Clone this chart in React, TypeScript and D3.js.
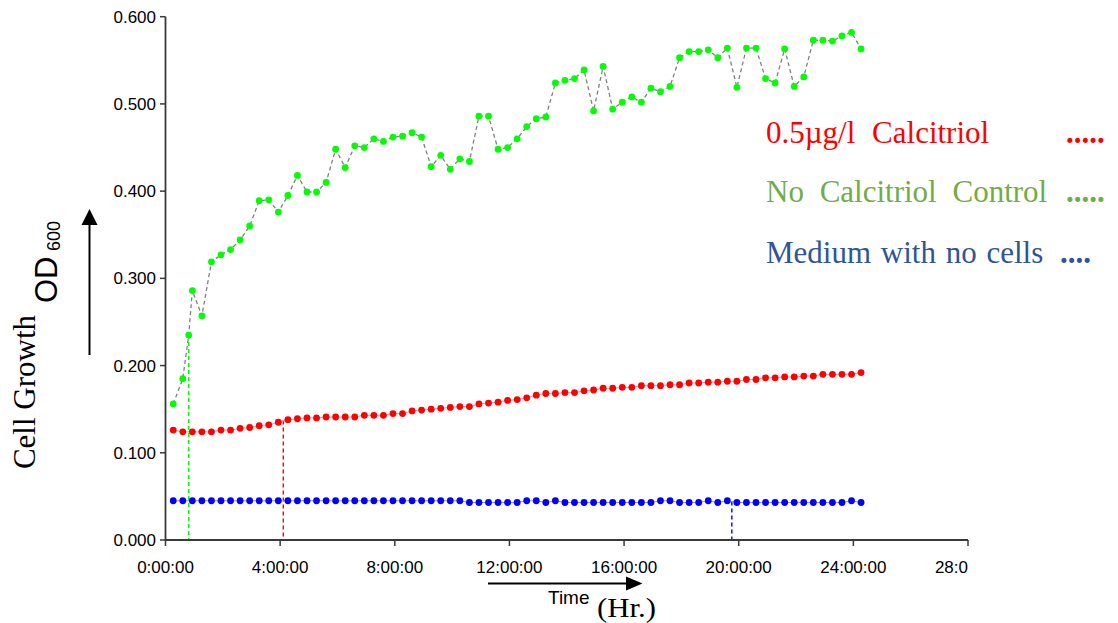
import React from "react";
import * as d3 from "d3";

// ---- data ----
const SAMPLE_START_H = 0.27; // first reading (hours)
const SAMPLE_STEP_MIN = 20; // reading interval (minutes)

const calcitriolValues = [
  0.126, 0.124, 0.124, 0.124, 0.124, 0.126, 0.126, 0.128, 0.129, 0.131,
  0.132, 0.135, 0.138, 0.139, 0.140, 0.140, 0.141, 0.141, 0.141, 0.141,
  0.143, 0.143, 0.143, 0.145, 0.145, 0.148, 0.149, 0.150, 0.151, 0.152,
  0.153, 0.153, 0.156, 0.157, 0.158, 0.160, 0.161, 0.163, 0.166, 0.168,
  0.168, 0.169, 0.169, 0.171, 0.172, 0.174, 0.174, 0.175, 0.175, 0.177,
  0.177, 0.177, 0.178, 0.178, 0.180, 0.180, 0.181, 0.181, 0.182, 0.182,
  0.184, 0.184, 0.186, 0.186, 0.187, 0.187, 0.188, 0.188, 0.190, 0.190,
  0.190, 0.190, 0.192,
];

const controlValues = [
  0.156, 0.185, 0.286, 0.257, 0.319, 0.327, 0.333, 0.344, 0.360, 0.389,
  0.390, 0.376, 0.395, 0.418, 0.399, 0.399, 0.410, 0.448, 0.427, 0.452,
  0.450, 0.460, 0.457, 0.462, 0.463, 0.467, 0.462, 0.428, 0.441, 0.425,
  0.437, 0.434, 0.486, 0.486, 0.448, 0.450, 0.460, 0.474, 0.483, 0.485,
  0.524, 0.527, 0.529, 0.539, 0.492, 0.543, 0.494, 0.502, 0.508, 0.502,
  0.518, 0.514, 0.520, 0.553, 0.560, 0.560, 0.562, 0.553, 0.564, 0.519,
  0.564, 0.564, 0.529, 0.524, 0.563, 0.520, 0.531, 0.573, 0.573, 0.572,
  0.578, 0.582, 0.563,
];
// one extra control reading taken between the 2nd and 3rd scheduled reads
const controlExtraTime = 0.81;
const controlExtraValue = 0.235;

const mediumValues = [
  0.045, 0.045, 0.045, 0.045, 0.045, 0.045, 0.045, 0.045, 0.045, 0.045,
  0.045, 0.045, 0.045, 0.045, 0.045, 0.045, 0.045, 0.045, 0.045, 0.045,
  0.045, 0.045, 0.045, 0.045, 0.045, 0.045, 0.045, 0.045, 0.045, 0.045,
  0.045, 0.043, 0.043, 0.043, 0.043, 0.043, 0.043, 0.045, 0.045, 0.043,
  0.045, 0.043, 0.043, 0.043, 0.043, 0.043, 0.043, 0.043, 0.043, 0.043,
  0.043, 0.045, 0.045, 0.043, 0.043, 0.043, 0.045, 0.043, 0.045, 0.043,
  0.043, 0.043, 0.043, 0.043, 0.043, 0.043, 0.043, 0.043, 0.043, 0.043,
  0.043, 0.045, 0.043,
];

// vertical drop-line markers (time in hours, value)
const dropSeries = ["control", "calcitriol", "medium"];
const dropTimes = [0.81, 4.11, 19.76];
const dropValues = [0.235, 0.137, 0.044];

const xTickHours = [0, 4, 8, 12, 16, 20, 24, 28];
const yTickValues = [0, 0.1, 0.2, 0.3, 0.4, 0.5, 0.6];

const legendLabels = ["0.5\u00b5g/l Calcitriol", "No Calcitriol Control", "Medium with no cells"];
const legendDots = [".....", ".....", "...."];

export default function App() {
  const W = 1118;
  const H = 623;
  const x = d3.scaleLinear().domain([0, 28]).range([165.5, 968]);
  const y = d3.scaleLinear().domain([0, 0.6]).range([540, 16.7]);

  const sampleTimes = d3.range(calcitriolValues.length).map(
    (i) => SAMPLE_START_H + (i * SAMPLE_STEP_MIN) / 60
  );

  const calcitriol = calcitriolValues.map((v, i) => ({ t: sampleTimes[i], v }));
  const medium = mediumValues.map((v, i) => ({ t: sampleTimes[i], v }));
  const controlBase = controlValues.map((v, i) => ({ t: sampleTimes[i], v }));
  const control = [
    ...controlBase.slice(0, 2),
    { t: controlExtraTime, v: controlExtraValue },
    ...controlBase.slice(2),
  ];

  const line = d3
    .line<{ t: number; v: number }>()
    .x((d) => x(d.t))
    .y((d) => y(d.v));

  const colors: Record<string, string> = {
    control: "#00ff00",
    calcitriol: "#ff0000",
    medium: "#0000ff",
  };
  const legendColors = ["#ff0000", "#70ad47", "#2f5597"];
  const legendBaselines = [143, 202, 263];
  const legendWordSpacing = [9, 8, 2];
  const legendDotX = [1066, 1066, 1060];

  const sans = "'Liberation Sans', Arial, sans-serif";
  const serif = "'Liberation Serif', 'Times New Roman', serif";
  const axisColor = "#3a3a3a";
  const fmtY = d3.format(".3f");
  const fmtX = (h: number) => `${h}:00:00`;

  const R = 3.4;

  return (
    <svg
      width={W}
      height={H}
      style={{ position: "fixed", left: 0, top: 0, background: "#fff" }}
    >
      <defs>
        <clipPath id="xlabClip">
          <rect x={0} y={540} width={968} height={50} />
        </clipPath>
      </defs>

      {/* drop lines */}
      {dropTimes.map((t, i) => (
        <line
          key={"drop" + i}
          x1={x(t)}
          x2={x(t)}
          y1={y(dropValues[i])}
          y2={y(0)}
          stroke={colors[dropSeries[i]]}
          strokeWidth={1.4}
          strokeDasharray="4,3"
        />
      ))}

      {/* connecting lines */}
      <path d={line(control) || ""} fill="none" stroke="#808080" strokeWidth={1.3} strokeDasharray="4,3" />
      <path d={line(calcitriol) || ""} fill="none" stroke="#ff9090" strokeWidth={1} />
      <path d={line(medium) || ""} fill="none" stroke="#9090ff" strokeWidth={1} />

      {/* markers */}
      {medium.map((d, i) => (
        <circle key={"m" + i} cx={x(d.t)} cy={y(d.v)} r={R} fill={colors.medium} />
      ))}
      {calcitriol.map((d, i) => (
        <circle key={"c" + i} cx={x(d.t)} cy={y(d.v)} r={R} fill={colors.calcitriol} />
      ))}
      {control.map((d, i) => (
        <circle key={"g" + i} cx={x(d.t)} cy={y(d.v)} r={R} fill={colors.control} />
      ))}

      {/* y axis */}
      <line x1={165.5} x2={165.5} y1={y(0.6)} y2={y(0)} stroke={axisColor} strokeWidth={1.8} />
      {yTickValues.map((v) => (
        <g key={"yt" + v}>
          <line x1={160} x2={165.5} y1={y(v)} y2={y(v)} stroke={axisColor} strokeWidth={1.5} />
          <text
            x={156}
            y={y(v)}
            dy="0.35em"
            textAnchor="end"
            fontFamily={sans}
            fontSize={17}
            fill="#000"
          >
            {fmtY(v)}
          </text>
        </g>
      ))}

      {/* x axis */}
      <line x1={165.5} x2={968} y1={540} y2={540} stroke={axisColor} strokeWidth={1.8} />
      {xTickHours.map((h) => (
        <line key={"xt" + h} x1={x(h)} x2={x(h)} y1={540} y2={546} stroke={axisColor} strokeWidth={1.5} />
      ))}
      <g clipPath="url(#xlabClip)">
        {xTickHours.map((h) => (
          <text
            key={"xl" + h}
            x={x(h)}
            y={573}
            textAnchor="middle"
            fontFamily={sans}
            fontSize={17}
            fill="#000"
          >
            {fmtX(h)}
          </text>
        ))}
      </g>

      {/* y axis title */}
      <text
        transform="translate(35,392) rotate(-90)"
        textAnchor="middle"
        fontFamily={serif}
        fontSize={31}
        fill="#000"
      >
        Cell Growth
      </text>
      <text transform="translate(57,303) rotate(-90)" fontFamily={sans} fontSize={31} fill="#000">
        OD
      </text>
      <text transform="translate(60,251) rotate(-90)" fontFamily={sans} fontSize={18} fill="#000">
        600
      </text>
      {/* vertical arrow */}
      <line x1={89.5} x2={89.5} y1={355} y2={222} stroke="#000" strokeWidth={2} />
      <path d="M81.5,225 L97.5,225 L89.5,209 Z" fill="#000" />

      {/* x axis title */}
      <line x1={488} x2={630} y1={583.5} y2={583.5} stroke="#000" strokeWidth={2.2} />
      <path d="M626,576.5 L626,590.5 L642.5,583.5 Z" fill="#000" />
      <text x={548} y={604} fontFamily={sans} fontSize={19} fill="#000">
        Time
      </text>
      <text
        x={597}
        y={617}
        fontFamily={serif}
        fontSize={27}
        textLength={59}
        lengthAdjust="spacingAndGlyphs"
        fill="#000"
      >
        (Hr.)
      </text>

      {/* legend */}
      {legendLabels.map((lab, i) => (
        <g key={"lg" + i}>
          <text
            x={766}
            y={legendBaselines[i]}
            fontFamily={serif}
            fontSize={31}
            fill={legendColors[i]}
            style={{ wordSpacing: legendWordSpacing[i] + "px" }}
          >
            {lab}
          </text>
          <text
            x={legendDotX[i]}
            y={legendBaselines[i]}
            fontFamily={serif}
            fontSize={31}
            fontWeight="bold"
            fill={legendColors[i]}
          >
            {legendDots[i]}
          </text>
        </g>
      ))}
    </svg>
  );
}
